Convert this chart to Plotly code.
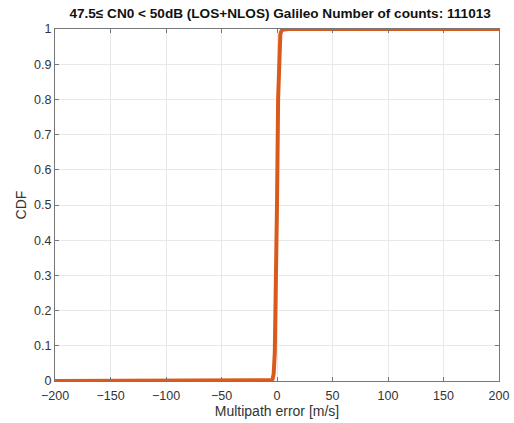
import plotly.graph_objects as go

# CDF of multipath error
err_x = [-200, -10, -5, -4, -3, -2, -1, 0, 1, 2, 3, 4, 5, 10, 200]
cdf_y = [0.0, 0.0, 0.002, 0.005, 0.02, 0.08, 0.25, 0.5, 0.8, 0.95, 0.985, 0.995, 0.998, 1.0, 1.0]

x_ticks = [-200, -150, -100, -50, 0, 50, 100, 150, 200]
y_ticks = [0, 0.1, 0.2, 0.3, 0.4, 0.5, 0.6, 0.7, 0.8, 0.9, 1]

fig = go.Figure()
fig.add_trace(go.Scatter(
    x=err_x,
    y=cdf_y,
    mode="lines",
    line=dict(color="#DA5A1E", width=4),
    showlegend=False,
))

axis_common = dict(
    showgrid=True,
    gridcolor="#e8e8e8",
    gridwidth=1,
    showline=True,
    linecolor="#777777",
    linewidth=1,
    mirror="ticks",
    ticks="inside",
    ticklen=4,
    tickcolor="#777777",
    zeroline=False,
    automargin=False,
    tickfont=dict(size=12.5, color="#333333"),
)

fig.update_layout(
    width=514,
    height=423,
    margin=dict(l=55, r=15, t=29, b=42),
    paper_bgcolor="white",
    plot_bgcolor="white",
    font=dict(family="Liberation Sans, Arial, sans-serif", color="#333333"),
    title=dict(
        text="<b>47.5\u2264 CN0 < 50dB (LOS+NLOS) Galileo Number of counts: 111013</b>",
        x=0.545,
        xanchor="center",
        y=0.969,
        yanchor="middle",
        font=dict(size=13.6, color="#111111"),
    ),
    xaxis=dict(
        axis_common,
        range=[-200, 200],
        tickvals=x_ticks,
        ticklabelstandoff=3,
        title=dict(text="Multipath error [m/s]", font=dict(size=14), standoff=0),
    ),
    yaxis=dict(
        axis_common,
        range=[0, 1],
        tickvals=y_ticks,
        title=dict(text="CDF", font=dict(size=14), standoff=4),
    ),
)

# drop the default 8px page margin so the figure fills the window
fig.write_html(
    "out.html",
    config={"displayModeBar": False},
    post_script="document.body.style.margin='0';",
)
